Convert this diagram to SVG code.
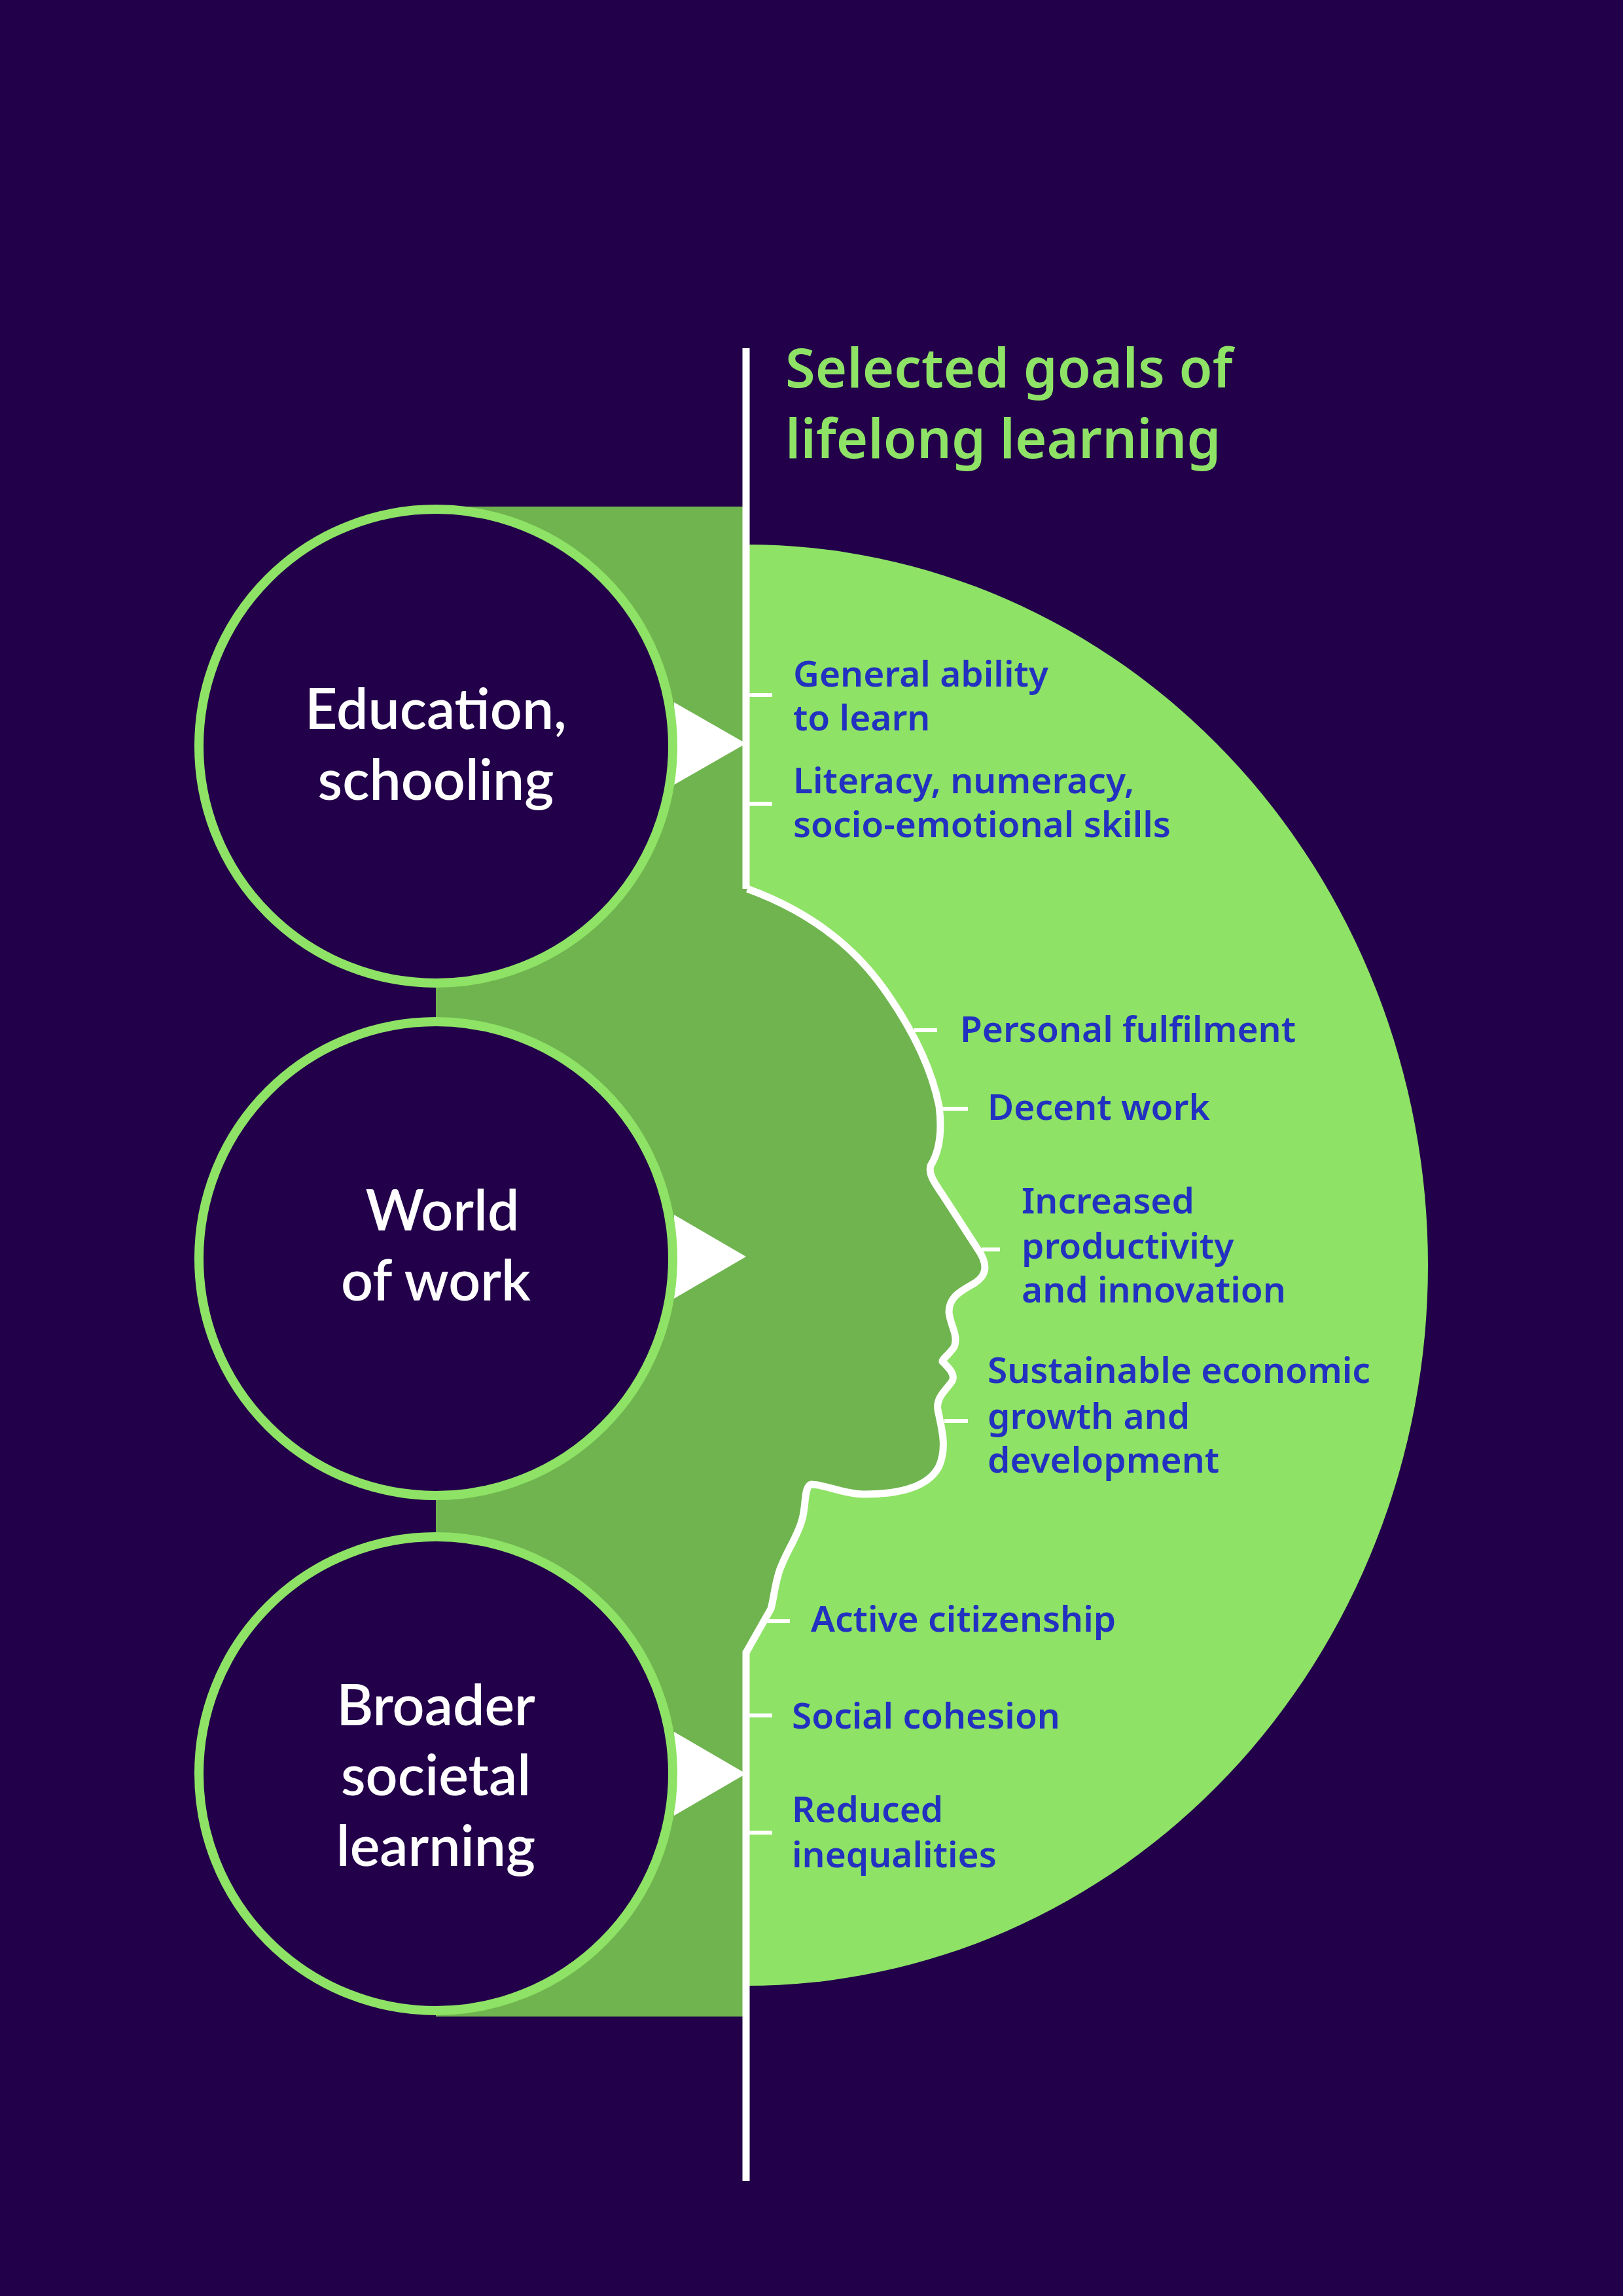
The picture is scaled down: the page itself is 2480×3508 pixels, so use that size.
<svg xmlns="http://www.w3.org/2000/svg" width="2480" height="3508" viewBox="0 0 2480 3508">
<style>
.w{stroke:#fff;stroke-width:11;fill:none}
.tk{stroke:#fff;stroke-width:6;fill:none}
.g{font-family:"Noto Sans",sans-serif;font-weight:600;font-size:55px;fill:#2231c0}
.c{font-family:Lato,"Open Sans",sans-serif;font-weight:600;font-size:86px;fill:#fff;text-anchor:middle}
.ring{fill:#22004a;stroke:#8ee265;stroke-width:14}
</style>
<rect width="2480" height="3508" fill="#22004a"/>
<path d="M1140,832 A1042,1101 0 0 1 1140,3034 Z" fill="#8ee265"/>
<rect x="666" y="774" width="474" height="2307" fill="#70b450"/>
<path id="head" d="M1147,1358 C1230,1390 1300,1440 1350,1510 C1400,1580 1425,1640 1435,1690 C1440,1730 1435,1760 1422,1781 C1418,1795 1430,1810 1440,1825 L1495,1910 C1512,1935 1505,1950 1490,1960 C1470,1972 1450,1980 1450,2005 C1452,2025 1465,2040 1458,2058 C1450,2070 1440,2076 1440,2080 C1450,2090 1460,2100 1455,2110 C1445,2125 1430,2135 1433,2154 C1438,2180 1448,2210 1435,2240 C1420,2270 1380,2283 1320,2283 C1290,2283 1260,2268 1240,2268 C1228,2270 1232,2300 1226,2320 C1220,2345 1205,2365 1195,2390 C1185,2410 1183,2440 1178,2458 L1140,2525 L1140,1358 Z" fill="#70b450"/>
<g id="connectors">
<line class="w" x1="1140" y1="532" x2="1140" y2="1358"/>
<line class="w" x1="1140" y1="2522" x2="1140" y2="3332"/>
<path class="w" d="M1142,1358 C1230,1390 1300,1440 1350,1510 C1400,1580 1425,1640 1435,1690 C1440,1730 1435,1760 1422,1781 C1418,1795 1430,1810 1440,1825 L1495,1910 C1512,1935 1505,1950 1490,1960 C1470,1972 1450,1980 1450,2005 C1452,2025 1465,2040 1458,2058 C1450,2070 1440,2076 1440,2080 C1450,2090 1460,2100 1455,2110 C1445,2125 1430,2135 1433,2154 C1438,2180 1448,2210 1435,2240 C1420,2270 1380,2283 1320,2283 C1290,2283 1260,2268 1240,2268 C1228,2270 1232,2300 1226,2320 C1220,2345 1205,2365 1195,2390 C1185,2410 1183,2440 1178,2458 L1140,2525"/>
<line class="tk" x1="1140" y1="1062" x2="1180" y2="1062"/>
<line class="tk" x1="1140" y1="1228" x2="1180" y2="1228"/>
<line class="tk" x1="1397" y1="1574" x2="1432" y2="1574"/>
<line class="tk" x1="1438" y1="1694" x2="1479" y2="1694"/>
<line class="tk" x1="1500" y1="1909" x2="1528" y2="1909"/>
<line class="tk" x1="1443" y1="2171" x2="1479" y2="2171"/>
<line class="tk" x1="1172" y1="2477" x2="1207" y2="2477"/>
<line class="tk" x1="1140" y1="2621" x2="1180" y2="2621"/>
<line class="tk" x1="1140" y1="2800" x2="1180" y2="2800"/>
<polygon points="1030,1073 1140,1136 1030,1199" fill="#fff"/>
<polygon points="1030,1856 1140,1920 1030,1984" fill="#fff"/>
<polygon points="1030,2646 1140,2710 1030,2774" fill="#fff"/>
</g>
<g id="title"><text font-family="'Noto Sans',sans-serif" font-weight="600" font-size="83" fill="#8ee265"><tspan x="1200" y="592">Selected goals of</tspan><tspan x="1200" y="700">lifelong learning</tspan></text></g>
<g id="n1"><circle class="ring" cx="666" cy="1140" r="362"/><text class="c"><tspan x="666" y="1114">Education,</tspan><tspan x="666" y="1222">schooling</tspan></text></g>
<g id="n2"><circle class="ring" cx="666" cy="1923" r="362"/><text class="c"><tspan x="676" y="1880">World</tspan><tspan x="666" y="1987">of work</tspan></text></g>
<g id="n3"><circle class="ring" cx="666" cy="2710" r="362"/><text class="c"><tspan x="666" y="2636">Broader</tspan><tspan x="666" y="2743">societal</tspan><tspan x="666" y="2851">learning</tspan></text></g>
<g id="goals">
<text class="g"><tspan x="1212" y="1049">General ability</tspan><tspan x="1212" y="1116">to learn</tspan></text>
<text class="g"><tspan x="1212" y="1212">Literacy, numeracy,</tspan><tspan x="1212" y="1279">socio-emotional skills</tspan></text>
<text class="g" x="1467" y="1592">Personal fulfilment</text>
<text class="g" x="1509" y="1711">Decent work</text>
<text class="g"><tspan x="1561" y="1854">Increased</tspan><tspan x="1561" y="1923">productivity</tspan><tspan x="1561" y="1990">and innovation</tspan></text>
<text class="g"><tspan x="1509" y="2113">Sustainable economic</tspan><tspan x="1509" y="2183">growth and</tspan><tspan x="1509" y="2250">development</tspan></text>
<text class="g" x="1239" y="2493">Active citizenship</text>
<text class="g" x="1210" y="2641">Social cohesion</text>
<text class="g"><tspan x="1210" y="2784">Reduced</tspan><tspan x="1210" y="2853">inequalities</tspan></text>
</g>
</svg>
